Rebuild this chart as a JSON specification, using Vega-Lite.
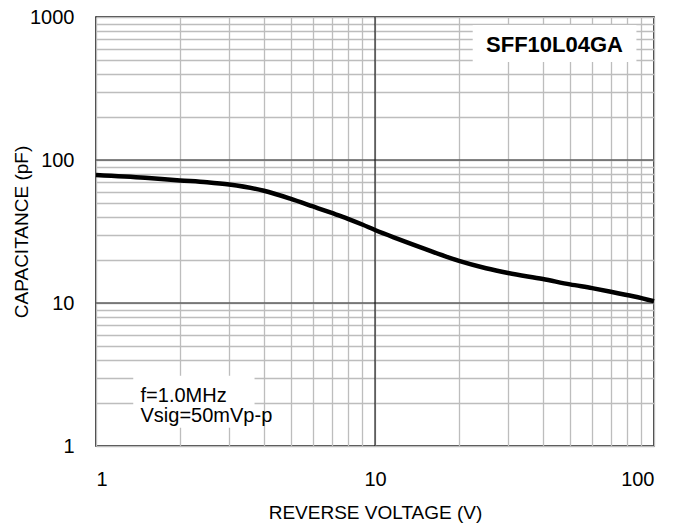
{
  "$schema": "https://vega.github.io/schema/vega-lite/v6.json",
  "width": 558,
  "height": 429,
  "autosize": "none",
  "padding": {"left": 96, "top": 17, "right": 36, "bottom": 83},
  "background": "white",
  "config": {
    "font": "Liberation Sans",
    "view": {"stroke": "black", "strokeWidth": 1.5},
    "axis": {"labelFont": "Liberation Sans", "titleFont": "Liberation Sans", "labelColor": "black", "titleColor": "black", "titleFontWeight": "normal"}
  },
  "datasets": {
    "curve": [
      {"v": 1, "c": 78.6},
      {"v": 1.5, "c": 75.2},
      {"v": 2, "c": 72.0},
      {"v": 2.5, "c": 69.8},
      {"v": 3, "c": 67.3},
      {"v": 4, "c": 61.0},
      {"v": 5, "c": 53.5},
      {"v": 6, "c": 47.3},
      {"v": 7, "c": 42.6},
      {"v": 8, "c": 38.8},
      {"v": 9, "c": 35.4},
      {"v": 10, "c": 32.4},
      {"v": 12, "c": 28.2},
      {"v": 15, "c": 24.0},
      {"v": 20, "c": 19.7},
      {"v": 25, "c": 17.5},
      {"v": 30, "c": 16.2},
      {"v": 40, "c": 14.7},
      {"v": 50, "c": 13.5},
      {"v": 60, "c": 12.7},
      {"v": 70, "c": 12.0},
      {"v": 85, "c": 11.1},
      {"v": 100, "c": 10.3}
    ],
    "xmajor": [{"v": 10}],
    "ymajor": [{"c": 10}, {"c": 100}],
    "boxes": [
      {"x1": 22.4, "x2": 86.5, "y1": 484, "y2": 879},
      {"x1": 1.36, "x2": 3.7, "y1": 1.34, "y2": 3.1}
    ],
    "labels": [
      {"v": 44, "c": 640, "t": "SFF10L04GA"}
    ],
    "notes": [
      {"v": 1.444, "c": 2.62, "t": "f=1.0MHz\nVsig=50mVp-p"}
    ]
  },
  "layer": [
    {
      "data": {"name": "curve"},
      "mark": {"type": "line", "opacity": 0},
      "encoding": {
        "x": {"field": "v", "type": "quantitative", "scale": {"type": "log", "domain": [1, 100], "nice": false},
          "axis": {"title": "REVERSE VOLTAGE (V)", "values": [1,2,3,4,5,6,7,8,9,10,20,30,40,50,60,70,80,90,100],
            "labelExpr": "datum.value == 1 || datum.value == 10 || datum.value == 100 ? format(datum.value, 'd') : ''",
            "grid": true, "gridColor": "#bdbdbd", "gridWidth": 1.3, "ticks": false, "domain": false,
            "labelFontSize": 20, "labelPadding": 23, "titleFontSize": 19, "titlePadding": 14}},
        "y": {"field": "c", "type": "quantitative", "scale": {"type": "log", "domain": [1, 1000], "nice": false},
          "axis": {"title": "CAPACITANCE (pF)", "values": [1,2,3,4,5,6,7,8,9,10,20,30,40,50,60,70,80,90,100,200,300,400,500,600,700,800,900,1000],
            "labelExpr": "datum.value == 1 || datum.value == 10 || datum.value == 100 || datum.value == 1000 ? format(datum.value, 'd') : ''",
            "grid": true, "gridColor": "#bdbdbd", "gridWidth": 1.3, "ticks": false, "domain": false,
            "labelFontSize": 20, "labelPadding": 22, "titleFontSize": 19, "titlePadding": -2}}
      }
    },
    {
      "data": {"name": "ymajor"},
      "mark": {"type": "rule", "color": "#606060", "strokeWidth": 1.3},
      "encoding": {
        "y": {"field": "c", "type": "quantitative", "scale": {"type": "log", "domain": [1, 1000], "nice": false}}
      }
    },
    {
      "data": {"name": "xmajor"},
      "mark": {"type": "rule", "color": "black", "strokeWidth": 1},
      "encoding": {
        "x": {"field": "v", "type": "quantitative", "scale": {"type": "log", "domain": [1, 100], "nice": false}}
      }
    },
    {
      "data": {"name": "boxes"},
      "mark": {"type": "rect", "color": "white"},
      "encoding": {
        "x": {"field": "x1", "type": "quantitative", "scale": {"type": "log", "domain": [1, 100], "nice": false}},
        "x2": {"field": "x2"},
        "y": {"field": "y1", "type": "quantitative", "scale": {"type": "log", "domain": [1, 1000], "nice": false}},
        "y2": {"field": "y2"}
      }
    },
    {
      "data": {"name": "curve"},
      "mark": {"type": "line", "color": "black", "strokeWidth": 4.5, "interpolate": "monotone"},
      "encoding": {
        "x": {"field": "v", "type": "quantitative", "scale": {"type": "log", "domain": [1, 100], "nice": false}},
        "y": {"field": "c", "type": "quantitative", "scale": {"type": "log", "domain": [1, 1000], "nice": false}}
      }
    },
    {
      "data": {"name": "labels"},
      "mark": {"type": "text", "fontSize": 22, "fontWeight": "bold", "align": "center", "baseline": "middle", "color": "black"},
      "encoding": {
        "x": {"field": "v", "type": "quantitative", "scale": {"type": "log", "domain": [1, 100], "nice": false}},
        "y": {"field": "c", "type": "quantitative", "scale": {"type": "log", "domain": [1, 1000], "nice": false}},
        "text": {"field": "t"}
      }
    },
    {
      "data": {"name": "notes"},
      "mark": {"type": "text", "fontSize": 20, "align": "left", "baseline": "top", "lineBreak": "\n", "lineHeight": 20, "color": "black"},
      "encoding": {
        "x": {"field": "v", "type": "quantitative", "scale": {"type": "log", "domain": [1, 100], "nice": false}},
        "y": {"field": "c", "type": "quantitative", "scale": {"type": "log", "domain": [1, 1000], "nice": false}},
        "text": {"field": "t"}
      }
    }
  ]
}
